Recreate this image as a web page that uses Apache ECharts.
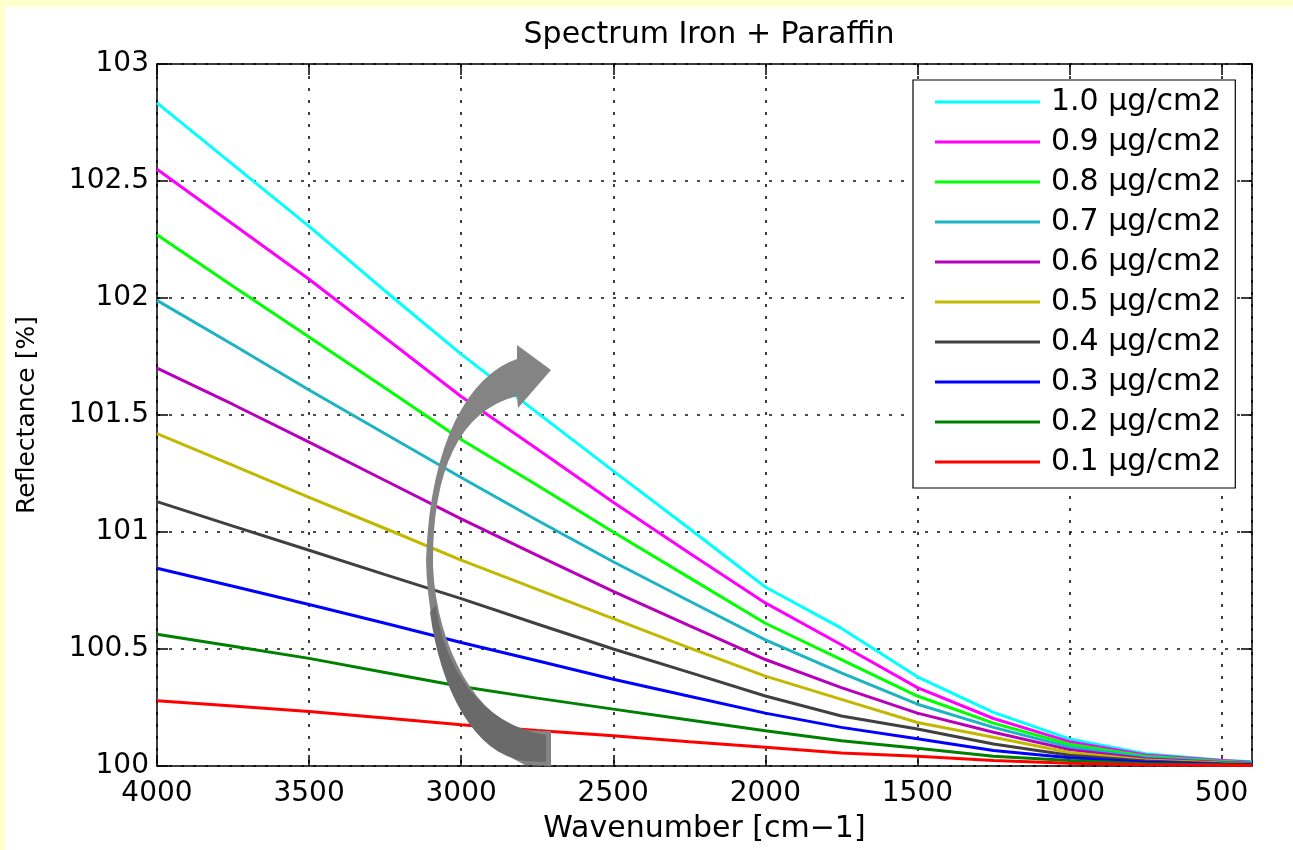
<!DOCTYPE html>
<html>
<head>
<meta charset="utf-8">
<title>Spectrum Iron + Paraffin</title>
<script src="https://cdn.jsdelivr.net/npm/echarts/dist/echarts.min.js"></script>
<style>
  html, body { margin: 0; padding: 0; background: #fff; }
  #chart { width: 1293px; height: 850px; }
</style>
</head>
<body>
<div id="chart"></div>
<script>
// wavenumber samples [cm-1]
const wavenumbers = [4000, 3750, 3500, 3250, 3000, 2750, 2500, 2250, 2000, 1750, 1500, 1250, 1000, 750, 500, 400];

// reflectance [%] per iron load
const r10 = [102.834, 102.57, 102.306, 102.03, 101.76, 101.51, 101.261, 101.015, 100.765, 100.589, 100.381, 100.229, 100.116, 100.052, 100.025, 100.018];
const r09 = [102.55, 102.315, 102.08, 101.83, 101.579, 101.355, 101.127, 100.91, 100.697, 100.518, 100.335, 100.203, 100.104, 100.047, 100.023, 100.016];
const r08 = [102.27, 102.05, 101.833, 101.615, 101.395, 101.2, 101.0, 100.805, 100.61, 100.455, 100.299, 100.183, 100.093, 100.042, 100.02, 100.014];
const r07 = [101.99, 101.8, 101.607, 101.42, 101.233, 101.05, 100.873, 100.705, 100.539, 100.398, 100.264, 100.165, 100.081, 100.036, 100.018, 100.012];
const r06 = [101.70, 101.545, 101.384, 101.22, 101.056, 100.9, 100.746, 100.6, 100.455, 100.335, 100.226, 100.144, 100.07, 100.031, 100.015, 100.011];
const r05 = [101.42, 101.285, 101.148, 101.015, 100.88, 100.755, 100.63, 100.505, 100.384, 100.285, 100.186, 100.123, 100.058, 100.026, 100.013, 100.009];
const r04 = [101.13, 101.025, 100.922, 100.818, 100.715, 100.607, 100.5, 100.40, 100.299, 100.214, 100.158, 100.094, 100.046, 100.021, 100.01, 100.007];
const r03 = [100.845, 100.768, 100.69, 100.61, 100.528, 100.45, 100.371, 100.298, 100.226, 100.165, 100.116, 100.066, 100.035, 100.016, 100.008, 100.005];
const r02 = [100.563, 100.512, 100.46, 100.40, 100.34, 100.29, 100.243, 100.197, 100.151, 100.108, 100.076, 100.042, 100.023, 100.01, 100.005, 100.003];
const r01 = [100.279, 100.256, 100.233, 100.205, 100.176, 100.152, 100.129, 100.104, 100.08, 100.056, 100.042, 100.024, 100.012, 100.005, 100.003, 100.002];

const seriesNames = ['1.0 μg/cm2', '0.9 μg/cm2', '0.8 μg/cm2', '0.7 μg/cm2', '0.6 μg/cm2',
  '0.5 μg/cm2', '0.4 μg/cm2', '0.3 μg/cm2', '0.2 μg/cm2', '0.1 μg/cm2'];
const seriesValues = [r10, r09, r08, r07, r06, r05, r04, r03, r02, r01];

// matlab-ish line colours
const colors = ['#00ffff', '#ff00ff', '#00ff00', '#1cb3c3', '#b800bc',
  '#c2b800', '#404040', '#0000ff', '#008000', '#ff0000'];

const FONT = 'DejaVu Sans';

let series = seriesNames.map((name, k) => ({
  name,
  type: 'line',
  symbol: 'none',
  showSymbol: false,
  xAxisIndex: 0,
  yAxisIndex: 0,
  data: wavenumbers.map((w, i) => [w, seriesValues[k][i]]),
  lineStyle: { color: colors[k], width: 3 },
  itemStyle: { color: colors[k] },
  emphasis: { disabled: true },
  z: 2 + k
}));

// 坐标轴公共样式
const gridLine = { show: true, lineStyle: { color: '#111', width: 1.6, type: [3, 9] } };
const boxLine = { show: true, onZero: false, lineStyle: { color: '#000', width: 1.5 } };
const innerTick = { show: true, inside: true, length: 11, lineStyle: { color: '#000', width: 1.5 } };
const plainNum = (v) => String(v);

const xBase = { type: 'value', inverse: true, min: 400, max: 4000, splitNumber: 7 };
const yBase = { type: 'value', min: 100, max: 103, interval: 0.5 };

// 弯曲箭头（注释用）: cubic pieces sampled into polygon outlines
const bez = (p0, p1, p2, p3, n = 16) => {
  let pts = [];
  for (let i = 0; i <= n; i++) {
    let t = i / n, u = 1 - t;
    pts.push([
      u * u * u * p0[0] + 3 * u * u * t * p1[0] + 3 * u * t * t * p2[0] + t * t * t * p3[0],
      u * u * u * p0[1] + 3 * u * u * t * p1[1] + 3 * u * t * t * p2[1] + t * t * t * p3[1]
    ]);
  }
  return pts;
};
const arrowPts = [].concat(
  bez([517, 359], [470, 375], [430, 440], [426, 560]),
  bez([426, 560], [428, 650], [460, 735], [525, 765]),
  [[551, 766], [551, 731], [543, 731]],
  bez([527, 730], [480, 722], [436, 650], [433, 565]),
  bez([433, 565], [432, 470], [460, 410], [517, 396]),
  [[518, 408], [551, 370], [517, 345]]
);
const shadePts = [].concat(
  bez([436, 605], [442, 665], [482, 726], [546, 735]),
  [[546, 762], [525, 761]],
  bez([525, 761], [475, 755], [440, 690], [430, 612])
);

const chart = echarts.init(document.getElementById('chart'), null, { renderer: 'canvas' });

chart.setOption({
  animation: false,
  backgroundColor: '#fff',
  title: {
    text: 'Spectrum Iron + Paraffin',
    left: 704,
    top: 15,
    textAlign: 'center',
    textStyle: { fontFamily: FONT, fontSize: 30, fontWeight: 'normal', color: '#000' }
  },
  grid: { left: 157, right: 41, top: 64, bottom: 84, containLabel: false },
  legend: {
    data: seriesNames,
    orient: 'vertical',
    left: 913,
    top: 80,
    icon: 'rect',
    itemWidth: 105,
    itemHeight: 3,
    itemGap: 10,
    padding: [7, 14, 11, 22],
    backgroundColor: '#fff',
    borderColor: '#000',
    borderWidth: 1.2,
    borderRadius: 0,
    selectedMode: false,
    textStyle: { fontFamily: FONT, fontSize: 30, color: '#000', padding: [0, 0, 0, 6] }
  },
  xAxis: [
    Object.assign({}, xBase, {
      position: 'bottom',
      name: 'Wavenumber [cm−1]',
      nameLocation: 'middle',
      nameGap: 48,
      nameTextStyle: { fontFamily: FONT, fontSize: 30, color: '#000' },
      axisLine: boxLine,
      axisTick: innerTick,
      axisLabel: {
        interval: 0, margin: 14, showMinLabel: false, showMaxLabel: true,
        formatter: plainNum,
        fontFamily: FONT, fontSize: 28, color: '#000'
      },
      splitLine: gridLine
    }),
    Object.assign({}, xBase, {
      position: 'top',
      axisLine: boxLine,
      axisTick: innerTick,
      axisLabel: { show: false },
      splitLine: { show: false }
    })
  ],
  yAxis: [
    Object.assign({}, yBase, {
      position: 'left',
      name: 'Reflectance [%]',
      nameLocation: 'middle',
      nameGap: 117,
      nameTextStyle: { fontFamily: FONT, fontSize: 25, color: '#000' },
      axisLine: boxLine,
      axisTick: innerTick,
      axisLabel: { margin: 8, formatter: plainNum, fontFamily: FONT, fontSize: 28, color: '#000' },
      splitLine: gridLine
    }),
    Object.assign({}, yBase, {
      position: 'right',
      axisLine: boxLine,
      axisTick: innerTick,
      axisLabel: { show: false },
      splitLine: { show: false }
    })
  ],
  graphic: [
    { type: 'rect', z: -10, silent: true, shape: { x: 0, y: 0, width: 1293, height: 7 }, style: { fill: '#ffffcc' } },
    { type: 'rect', z: -10, silent: true, shape: { x: 0, y: 0, width: 5, height: 850 }, style: { fill: '#ffffcc' } },
    { type: 'polygon', z: 100, silent: true, shape: { points: arrowPts }, style: { fill: '#848484' } },
    { type: 'polygon', z: 101, silent: true, shape: { points: shadePts }, style: { fill: '#6a6a6a' } }
  ],
  series
});
</script>
</body>
</html>
